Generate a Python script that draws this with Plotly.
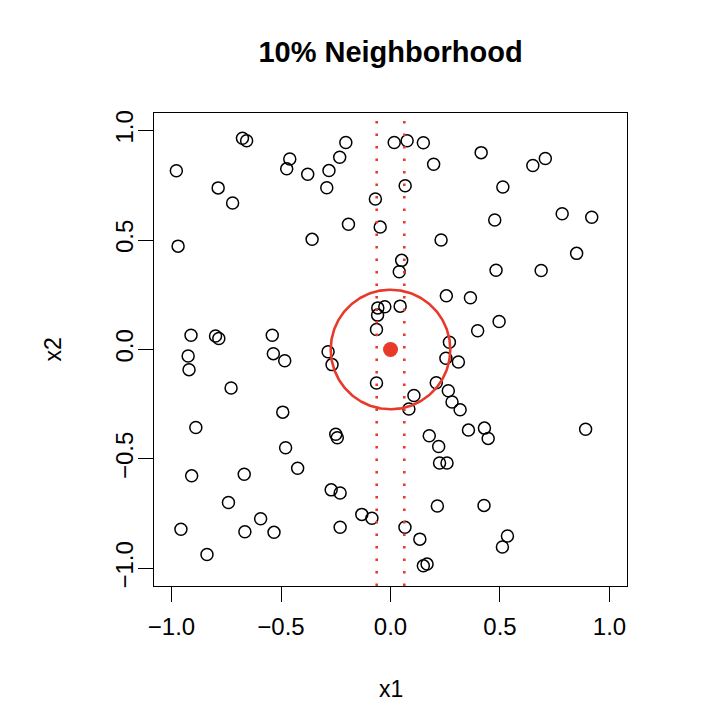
import numpy as np
import plotly.graph_objects as go

x1 = [-0.978, -0.676, -0.657, -0.787, -0.721, -0.970, -0.460, -0.474, -0.378, -0.281,
      -0.291, -0.232, -0.204, -0.358, -0.192, -0.069, -0.047, -0.058, -0.026, -0.059,
      -0.064, -0.911, -0.799, -0.784, -0.540,
      0.017, 0.076, 0.150, 0.197, 0.414, 0.650, 0.707, 0.067, 0.513, 0.784,
      0.919, 0.476, 0.231, 0.850, 0.051, 0.040, 0.482, 0.688, 0.255, 0.365,
      0.044, 0.496, 0.398, 0.269,
      -0.924, -0.920, -0.535, -0.483, -0.285, -0.267, -0.064, -0.728, -0.492, -0.889,
      -0.250, -0.243, -0.479, -0.424, -0.908, -0.668, -0.740, -0.271, -0.230, -0.593,
      -0.131, -0.085, -0.957, -0.665, -0.532, -0.230, -0.838,
      0.253, 0.310, 0.209, 0.107, 0.264, 0.281, 0.318, 0.084, 0.356, 0.429,
      0.446, 0.891, 0.177, 0.220, 0.224, 0.258, 0.214, 0.427, 0.066, 0.134,
      0.534, 0.511, 0.150, 0.167]
x2 = [0.816, 0.965, 0.953, 0.738, 0.669, 0.472, 0.870, 0.825, 0.800, 0.817,
      0.739, 0.878, 0.945, 0.503, 0.572, 0.687, 0.559, 0.190, 0.195, 0.157,
      0.091, 0.065, 0.062, 0.050, 0.065,
      0.945, 0.953, 0.944, 0.846, 0.899, 0.840, 0.872, 0.748, 0.742, 0.620,
      0.604, 0.591, 0.500, 0.439, 0.407, 0.355, 0.362, 0.361, 0.245, 0.236,
      0.198, 0.128, 0.086, 0.033,
      -0.030, -0.092, -0.019, -0.051, -0.010, -0.069, -0.153, -0.176, -0.286, -0.356,
      -0.387, -0.403, -0.449, -0.542, -0.577, -0.570, -0.699, -0.641, -0.655, -0.773,
      -0.753, -0.771, -0.821, -0.832, -0.835, -0.812, -0.936,
      -0.040, -0.057, -0.152, -0.210, -0.188, -0.240, -0.275, -0.272, -0.368, -0.359,
      -0.406, -0.364, -0.394, -0.443, -0.518, -0.518, -0.715, -0.712, -0.812, -0.866,
      -0.852, -0.902, -0.988, -0.980]

target = [0.0, 0.0]
neighborhood_radius = 0.273
band_half_width = 0.063
tick_vals = [-1.0, -0.5, 0.0, 0.5, 1.0]
tick_text = ["\u22121.0", "\u22120.5", "0.0", "0.5", "1.0"]

RED = "#E8392B"
FONT = "Liberation Sans, Arial, Helvetica, sans-serif"

theta = np.linspace(0, 2 * np.pi, 361)
cx = target[0] + neighborhood_radius * np.cos(theta)
cy = target[1] + neighborhood_radius * np.sin(theta)

fig = go.Figure()
fig.add_trace(go.Scatter(x=x1, y=x2, mode="markers",
                         marker=dict(symbol="circle-open", size=12, color="black",
                                     line=dict(width=1.5, color="black")),
                         hoverinfo="x+y", showlegend=False))
fig.add_trace(go.Scatter(x=cx, y=cy, mode="lines",
                         line=dict(color=RED, width=2.6), showlegend=False,
                         hoverinfo="skip"))
fig.add_trace(go.Scatter(x=[target[0]], y=[target[1]], mode="markers",
                         marker=dict(symbol="circle", size=15, color=RED),
                         showlegend=False))

for xv in (-band_half_width, band_half_width):
    fig.add_shape(type="line", xref="x", yref="paper", x0=xv, x1=xv, y0=0, y1=1,
                  line=dict(color=RED, width=2.6, dash="2.5px,10px"))

axis_common = dict(range=[-1.08, 1.08], showgrid=False, zeroline=False,
                   showline=True, mirror=True, linecolor="black", linewidth=1.3,
                   ticks="outside", ticklen=15, tickwidth=1.3, tickcolor="black",
                   tickvals=tick_vals, ticktext=tick_text,
                   tickfont=dict(family=FONT, size=24, color="black"))

fig.update_xaxes(**axis_common, ticklabelstandoff=4)
fig.update_yaxes(**axis_common, tickangle=-90, ticklabelstandoff=-5)

W, H = 710, 718
fig.update_layout(
    width=W, height=H,
    margin=dict(l=146, r=91, t=105, b=140, autoexpand=False),
    plot_bgcolor="white", paper_bgcolor="white",
    title=dict(text="<b>10% Neighborhood</b>", x=0.5, xref="paper",
               y=1 - 44 / H, yref="container", yanchor="middle",
               font=dict(family=FONT, size=29, color="black")),
    annotations=[
        dict(text="x1", xref="paper", yref="paper", x=0.5, y=(586 - 689) / 473,
             showarrow=False, font=dict(family=FONT, size=23, color="black"),
             xanchor="center", yanchor="middle"),
        dict(text="x2", xref="paper", yref="paper", x=(52 - 154) / 473, y=0.5,
             showarrow=False, textangle=-90,
             font=dict(family=FONT, size=23, color="black"),
             xanchor="center", yanchor="middle"),
    ],
)

fig.write_html("out.html")
